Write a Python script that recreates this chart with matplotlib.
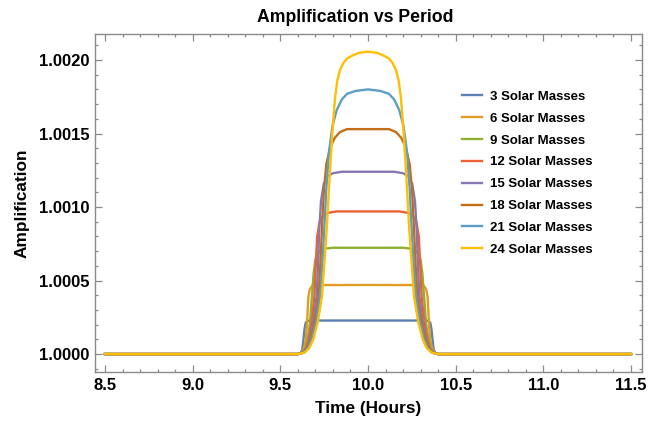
import matplotlib
matplotlib.use("Agg")
import matplotlib.pyplot as plt
from matplotlib.ticker import MultipleLocator, FormatStrFormatter

plt.rcParams['font.family'] = ['Liberation Sans', 'DejaVu Sans']
plt.rcParams['font.weight'] = 'bold'

# Ingress half of each light curve (hours, amplification - 1); egress mirrors about 10 h
CENTER = 10.0
T_START, T_END = 8.5, 11.5

t_3 = [9.600, 9.615, 9.625, 9.632, 9.638, 9.644, 9.652, 9.670, 10.0]
a_3 = [0.0, 0.000005, 0.00003, 0.00010, 0.00017, 0.00021, 0.000224, 0.000228, 0.000228]

t_6 = [9.600, 9.620, 9.635, 9.645, 9.652, 9.660, 9.668, 9.680, 9.700, 10.0]
a_6 = [0.0, 0.000008, 0.00004, 0.00010, 0.00020, 0.00039, 0.00044, 0.000462, 0.000469, 0.00047]

t_9 = [9.600, 9.625, 9.642, 9.656, 9.668, 9.680, 9.690, 9.700, 9.715, 9.736, 9.760, 9.800, 10.0]
a_9 = [0.0, 0.00001, 0.00004, 0.00010, 0.00020, 0.00039, 0.00055, 0.00064, 0.00069, 0.000707,
       0.000718, 0.000723, 0.000723]

t_12 = [9.600, 9.628, 9.648, 9.662, 9.678, 9.694, 9.702, 9.710, 9.724, 9.745, 9.770, 9.820, 10.0]
a_12 = [0.0, 0.00001, 0.00004, 0.00010, 0.00021, 0.00039, 0.00060, 0.00080, 0.00090, 0.00094,
        0.00096, 0.00097, 0.00097]

t_15 = [9.600, 9.630, 9.652, 9.668, 9.688, 9.707, 9.715, 9.722, 9.732, 9.748, 9.770, 9.800,
        9.850, 10.0]
a_15 = [0.0, 0.00001, 0.00004, 0.00010, 0.00022, 0.00039, 0.00060, 0.00084, 0.00104, 0.00116,
        0.00121, 0.00123, 0.00124, 0.00124]

t_18 = [9.600, 9.632, 9.656, 9.674, 9.697, 9.718, 9.728, 9.737, 9.748, 9.762, 9.785, 9.810,
        9.840, 9.880, 10.0]
a_18 = [0.0, 0.00001, 0.00004, 0.00010, 0.00022, 0.00039, 0.00060, 0.00084, 0.00110, 0.00129,
        0.00141, 0.00147, 0.00151, 0.00153, 0.00153]

t_21 = [9.600, 9.635, 9.660, 9.680, 9.705, 9.727, 9.739, 9.750, 9.762, 9.777, 9.797, 9.822,
        9.850, 9.880, 9.930, 10.0]
a_21 = [0.0, 0.00001, 0.00004, 0.00010, 0.00022, 0.00039, 0.00060, 0.00084, 0.00112, 0.00137,
        0.00155, 0.00166, 0.00173, 0.00177, 0.00179, 0.00180]

t_24 = [9.600, 9.638, 9.665, 9.688, 9.714, 9.737, 9.750, 9.764, 9.780, 9.796, 9.812, 9.825,
        9.840, 9.860, 9.880, 9.910, 9.950, 10.0]
a_24 = [0.0, 0.00001, 0.00004, 0.00010, 0.00022, 0.00039, 0.00060, 0.00084, 0.00118, 0.00150,
        0.00174, 0.00186, 0.00193, 0.00198, 0.00201, 0.00203, 0.00205, 0.002056]

masses = [3, 6, 9, 12, 15, 18, 21, 24]
half_times = [t_3, t_6, t_9, t_12, t_15, t_18, t_21, t_24]
half_amps = [a_3, a_6, a_9, a_12, a_15, a_18, a_21, a_24]

# Mathematica default plot colours
colors = ['#5E81B5', '#E19C24', '#8FB032', '#EB6235',
          '#8778B3', '#C56E1A', '#5D9EC7', '#FFBF00']


def full_curve(ts, amps):
    """Baseline, ingress, mirrored egress, baseline."""
    t_left = [T_START] + list(ts)
    a_left = [0.0] + list(amps)
    t_right = [2 * CENTER - t for t in reversed(t_left[:-1])]
    a_right = list(reversed(a_left[:-1]))
    t = t_left + t_right
    a = [1.0 + v for v in a_left + a_right]
    return t, a


fig = plt.figure(figsize=(6.71, 4.23), dpi=100)
ax = fig.add_axes([0.1416, 0.1206, 0.8152, 0.799])

for m, ts, amps, c in zip(masses, half_times, half_amps, colors):
    t, a = full_curve(ts, amps)
    ax.plot(t, a, color=c, lw=1.7, label=f'{m} Solar Masses',
            solid_joinstyle='round')

ax.set_xlim(8.443, 11.563)
ax.set_ylim(0.999878, 1.002177)

frame_col = '#8a8a8a'
for sp in ax.spines.values():
    sp.set_color(frame_col)
    sp.set_linewidth(1.0)

ax.xaxis.set_major_locator(MultipleLocator(0.5))
ax.xaxis.set_minor_locator(MultipleLocator(0.1))
ax.yaxis.set_major_locator(MultipleLocator(0.0005))
ax.yaxis.set_minor_locator(MultipleLocator(0.0001))
ax.xaxis.set_major_formatter(FormatStrFormatter('%.1f'))
ax.yaxis.set_major_formatter(FormatStrFormatter('%.4f'))
ax.tick_params(which='both', direction='in', top=True, right=True,
               color=frame_col, width=0.9, labelsize=12, pad=4)
ax.tick_params(which='major', length=5)
ax.tick_params(which='minor', length=2.5)
for lbl in ax.get_xticklabels() + ax.get_yticklabels():
    lbl.set_fontweight('bold')

ax.set_title('Amplification vs Period', fontsize=12.7, fontweight='bold',
             pad=9, x=0.475)
ax.set_xlabel('Time (Hours)', fontsize=12.4, fontweight='bold', labelpad=6)
ax.set_ylabel('Amplification', fontsize=12.4, fontweight='bold', labelpad=7)

leg = ax.legend(loc='upper left', bbox_to_anchor=(0.662, 0.848), frameon=False,
                fontsize=9.5, handlelength=1.5, handletextpad=0.6,
                labelspacing=0.73, borderaxespad=0)
for txt in leg.get_texts():
    txt.set_fontweight('bold')

fig.savefig('out.png', dpi=100)
